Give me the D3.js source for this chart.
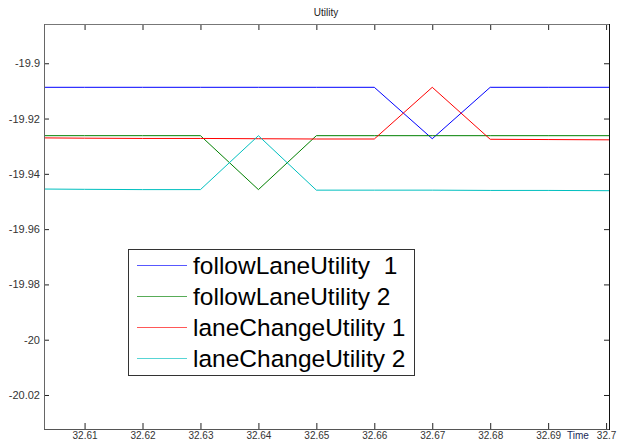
<!DOCTYPE html>
<html>
<head>
<meta charset="utf-8">
<script src="https://cdn.jsdelivr.net/npm/d3@7"></script>
<style>
  html, body { margin: 0; padding: 0; background: #ffffff; }
  svg { display: block; }
  text { font-family: "Liberation Sans", Arial, sans-serif; }
</style>
</head>
<body>
<svg id="chart" width="625" height="441"></svg>
<script>
// ---- data ----
const title = "Utility";
const xAxisLabel = "Time";
const times = [32.603, 32.61, 32.62, 32.63, 32.64, 32.65, 32.66, 32.67, 32.68, 32.69, 32.7005];
const seriesNames = ["followLaneUtility  1", "followLaneUtility 2", "laneChangeUtility 1", "laneChangeUtility 2"];
const followLane1 = [-19.9087, -19.9087, -19.9087, -19.9087, -19.9087, -19.9087, -19.9087, -19.9273, -19.9087, -19.9087, -19.9087];
const followLane2 = [-19.9262, -19.9262, -19.9262, -19.9262, -19.9457, -19.9262, -19.9262, -19.9262, -19.9262, -19.9262, -19.9262];
const laneChange1 = [-19.9270, -19.9271, -19.9272, -19.9272, -19.9273, -19.9274, -19.9274, -19.9087, -19.9275, -19.9276, -19.9277];
const laneChange2 = [-19.9455, -19.9456, -19.9457, -19.9457, -19.9262, -19.9459, -19.9459, -19.9459, -19.9460, -19.9460, -19.9461];
const seriesColors = ["#0000ff", "#008000", "#ff0000", "#00bfbf"];
const xTicks = [32.61, 32.62, 32.63, 32.64, 32.65, 32.66, 32.67, 32.68, 32.69, 32.7];
const xTickLabels = ["32.61", "32.62", "32.63", "32.64", "32.65", "32.66", "32.67", "32.68", "32.69", "32.7"];
const yTicks = [-19.9, -19.92, -19.94, -19.96, -19.98, -20, -20.02];
const yTickLabels = ["-19.9", "-19.92", "-19.94", "-19.96", "-19.98", "-20", "-20.02"];
const yDomain = [-20.0323, -19.8858];

// ---- layout ----
const plot = { left: 44, top: 24, right: 609, bottom: 429 };
const svg = d3.select("#chart");

const x = d3.scaleLinear().domain([times[0], times[times.length - 1]]).range([plot.left, plot.right]);
const y = d3.scaleLinear().domain(yDomain).range([plot.bottom, plot.top]);

// title
svg.append("text").attr("x", 326).attr("y", 16).attr("text-anchor", "middle")
  .attr("font-size", 10).attr("fill", "#222").text(title);

// axes
const tickFont = (g, size) => g.selectAll("text").attr("font-size", size).attr("fill", "#333")
  .style("font-family", "'Liberation Sans', Arial, sans-serif");

const gx = svg.append("g").attr("transform", `translate(0,${plot.bottom})`)
  .call(d3.axisBottom(x).tickValues(xTicks).tickFormat((d, i) => xTickLabels[i]).tickSize(-6).tickPadding(2.5));
tickFont(gx, 10);
gx.select(".domain").remove();
gx.selectAll("line").attr("stroke", "#222");

const gxt = svg.append("g").attr("transform", `translate(0,${plot.top})`)
  .call(d3.axisTop(x).tickValues(xTicks).tickFormat("").tickSize(-6));
gxt.select(".domain").remove();
gxt.selectAll("line").attr("stroke", "#222");

const gy = svg.append("g").attr("transform", `translate(${plot.left},0)`)
  .call(d3.axisLeft(y).tickValues(yTicks).tickFormat((d, i) => yTickLabels[i]).tickSize(-5).tickPadding(4));
tickFont(gy, 11);
gy.select(".domain").remove();
gy.selectAll("line").attr("stroke", "#222");

const gyr = svg.append("g").attr("transform", `translate(${plot.right},0)`)
  .call(d3.axisRight(y).tickValues(yTicks).tickFormat("").tickSize(-5));
gyr.select(".domain").remove();
gyr.selectAll("line").attr("stroke", "#222");

// lines
const allSeries = [followLane1, followLane2, laneChange1, laneChange2];
const line = d3.line().x((d, i) => x(times[i])).y(d => y(d));
allSeries.forEach((s, k) => {
  svg.append("path").datum(s).attr("d", line)
    .attr("fill", "none").attr("stroke", seriesColors[k]).attr("stroke-width", 1);
});

// frame
svg.append("line").attr("x1", plot.left).attr("x2", plot.right).attr("y1", plot.top + 0.5).attr("y2", plot.top + 0.5).attr("stroke", "#777");
svg.append("line").attr("x1", plot.left + 0.5).attr("x2", plot.left + 0.5).attr("y1", plot.top).attr("y2", plot.bottom).attr("stroke", "#666");
svg.append("line").attr("x1", plot.left).attr("x2", plot.right).attr("y1", plot.bottom + 0.5).attr("y2", plot.bottom + 0.5).attr("stroke", "#555");
svg.append("line").attr("x1", plot.right + 0.5).attr("x2", plot.right + 0.5).attr("y1", plot.top).attr("y2", plot.bottom + 1).attr("stroke", "#111");

// x label
svg.append("text").attr("x", 567).attr("y", 438.5).attr("font-size", 10).attr("fill", "#1a2a5a").text(xAxisLabel);

// legend
const lg = svg.append("g");
lg.append("rect").attr("x", 128.5).attr("y", 249.5).attr("width", 286).attr("height", 126)
  .attr("fill", "#ffffff").attr("stroke", "#333");
const rowY = [265.5, 296.5, 327.5, 358.5];
seriesNames.forEach((name, k) => {
  lg.append("line").attr("x1", 137).attr("x2", 187).attr("y1", rowY[k]).attr("y2", rowY[k])
    .attr("stroke", seriesColors[k]).attr("stroke-width", 1).attr("opacity", 0.65);
  lg.append("text").attr("x", 193).attr("y", rowY[k] + 8.5).attr("font-size", 24.5)
    .attr("fill", "#000").style("white-space", "pre").text(name);
});
</script>
</body>
</html>
